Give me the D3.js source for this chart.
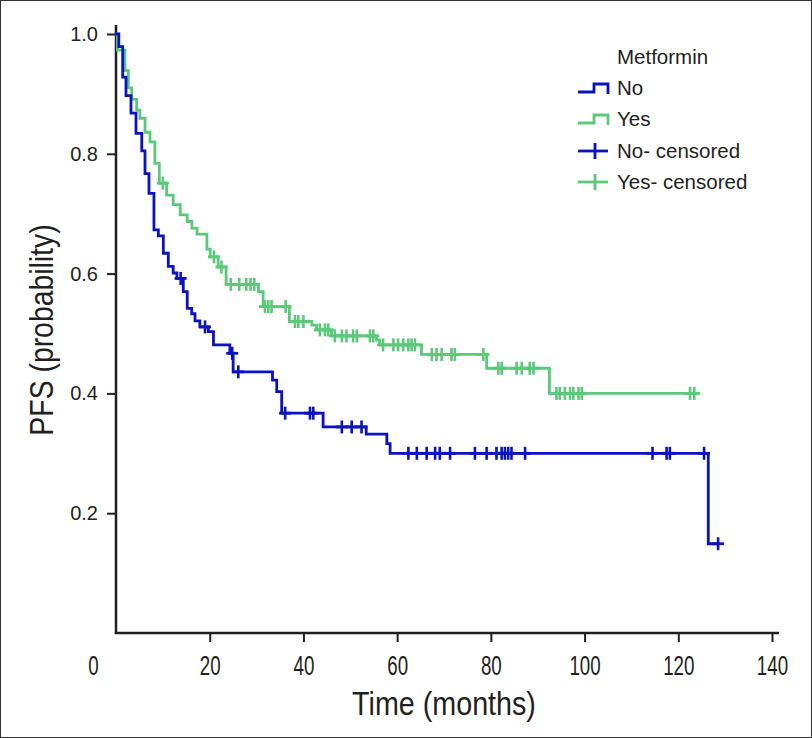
<!DOCTYPE html>
<html><head><meta charset="utf-8">
<script src="https://cdn.jsdelivr.net/npm/d3@7"></script>
<style>
html,body{margin:0;padding:0;background:#fff;}
svg{display:block;}
.reg{font-family:"Liberation Sans",Arial,Helvetica,sans-serif;}
</style></head>
<body>
<script>
// ---- data ----
const xTicks = [0, 20, 40, 60, 80, 100, 120, 140];
const yTicks = [0.2, 0.4, 0.6, 0.8, 1.0];
const legendTitle = "Metformin";
const legendLabels = ["No", "Yes", "No- censored", "Yes- censored"];

// step events: time (months) and survival after drop
const noStepTimes = [0.6, 1.43, 2.13, 3.2, 4.27, 5.5, 6.19, 7.04, 8.1, 9.03, 10.1, 11.16, 12.2, 13.0, 14.36, 15.2, 16.15, 16.86, 17.9, 19.7, 20.8, 24.3, 25.0, 33.4, 34.3, 35.36, 44.2, 53.4, 57.8, 58.5, 126.4];
const noStepSurv  = [0.979, 0.928, 0.897, 0.868, 0.834, 0.805, 0.767, 0.734, 0.673, 0.663, 0.634, 0.612, 0.601, 0.592, 0.570, 0.542, 0.533, 0.521, 0.511, 0.503, 0.481, 0.467, 0.436, 0.422, 0.403, 0.367, 0.344, 0.332, 0.316, 0.300, 0.149];
const noCensor = [13.8, 19.0, 24.8, 26.1, 36.1, 41.4, 42.1, 48.2, 50.3, 52.4, 62.4, 64.2, 66.3, 68.1, 69.1, 71.3, 76.6, 79.1, 81.2, 82.3, 83.0, 83.7, 84.4, 87.3, 114.5, 117.5, 118.2, 125.5, 128.5];

const yesStepTimes = [0.3, 1.9, 2.63, 3.35, 4.41, 5.1, 6.2, 7.25, 8.3, 9.24, 10.8, 12.2, 13.7, 15.2, 16.2, 17.3, 19.4, 20.1, 21.8, 23.5, 30.4, 31.4, 37.0, 41.8, 42.8, 46.0, 55.6, 56.3, 65.2, 79.1, 92.5];
const yesStepSurv  = [0.973, 0.939, 0.910, 0.891, 0.873, 0.859, 0.836, 0.820, 0.784, 0.751, 0.731, 0.715, 0.698, 0.687, 0.676, 0.666, 0.641, 0.628, 0.611, 0.582, 0.570, 0.545, 0.520, 0.514, 0.506, 0.496, 0.489, 0.481, 0.465, 0.442, 0.400];
const yesCensor = [10.0, 20.9, 22.5, 24.5, 26.3, 27.8, 28.7, 29.5, 31.8, 32.5, 33.2, 36.2, 38.2, 38.9, 40.0, 43.5, 44.6, 45.3, 46.7, 48.2, 49.2, 50.6, 51.4, 54.2, 54.9, 57.0, 59.2, 60.2, 61.3, 62.4, 63.1, 63.8, 67.4, 68.4, 69.5, 71.6, 72.3, 78.4, 81.6, 82.3, 85.5, 86.6, 88.3, 89.1, 94.0, 94.7, 95.8, 96.9, 97.6, 98.7, 99.4, 122.5, 123.4];

const blue = "#0b12c0", green = "#5bc97a", ink = "#231f20";

const W = 812, H = 738;
const svg = d3.select("body").append("svg").attr("width", W).attr("height", H);

svg.append("rect").attr("x", 0.5).attr("y", 0.5).attr("width", W - 1).attr("height", H - 1)
  .attr("fill", "#fff").attr("stroke", "#333").attr("stroke-width", 1);

const x = d3.scaleLinear().domain([0, 140]).range([116, 772]);
const y = d3.scaleLinear().domain([0, 1]).range([633, 34]);

// axes
const yAxis = d3.axisLeft(y).tickValues(yTicks).tickFormat(d3.format(".1f")).tickSize(9).tickPadding(9);
const gy = svg.append("g").attr("transform", `translate(${x(0)},0)`).call(yAxis);
gy.select(".domain").remove();
gy.selectAll(".tick line").attr("stroke", ink).attr("stroke-width", 2);
gy.selectAll(".tick text").attr("class", "reg").attr("font-size", 20).attr("fill", ink);

const sxTick = 0.67;
const xAxis = d3.axisBottom(x).tickValues(xTicks).tickFormat(d3.format("d")).tickSize(9).tickPadding(13);
const gx = svg.append("g").attr("transform", `translate(0,${y(0)})`).call(xAxis);
gx.select(".domain").remove();
gx.selectAll(".tick line").attr("stroke", ink).attr("stroke-width", 2);
gx.selectAll(".tick text").attr("class", "reg").attr("font-size", 28).attr("fill", ink)
  .attr("transform", `scale(${sxTick},1)`);
gx.selectAll(".tick").filter(d => d === 0).select("line").remove();
gx.selectAll(".tick").filter(d => d === 0).select("text").attr("dx", -23 / sxTick);

svg.append("line").attr("x1", x(0)).attr("x2", x(0)).attr("y1", y(0) + 1).attr("y2", y(1.015))
  .attr("stroke", ink).attr("stroke-width", 2.5);
svg.append("line").attr("x1", x(0) - 1.2).attr("x2", x(141.5)).attr("y1", y(0)).attr("y2", y(0))
  .attr("stroke", ink).attr("stroke-width", 2.5);

// axis titles (condensed look)
svg.append("text").attr("class", "reg")
  .attr("transform", `translate(${(x(0) + x(140)) / 2},715) scale(0.87,1)`)
  .attr("text-anchor", "middle").attr("font-size", 33).attr("fill", ink).text("Time (months)");
svg.append("text").attr("class", "reg").attr("transform", `translate(53,330) rotate(-90) scale(0.86,1)`)
  .attr("text-anchor", "middle").attr("font-size", 33).attr("fill", ink).text("PFS (probability)");

// curves
function build(times, surv, censor) {
  const pts = [[0, 1]];
  times.forEach((t, i) => pts.push([t, surv[i]]));
  const end = Math.max(times[times.length - 1], censor[censor.length - 1]);
  pts.push([end, surv[surv.length - 1]]);
  const sAt = t => { let s = 1; times.forEach((tt, i) => { if (tt <= t) s = surv[i]; }); return s; };
  return { pts, cens: censor.map(t => [t, sAt(t)]) };
}
const line = d3.line().x(d => x(d[0])).y(d => y(d[1])).curve(d3.curveStepAfter);
const series = [
  { ...build(yesStepTimes, yesStepSurv, yesCensor), color: green },
  { ...build(noStepTimes, noStepSurv, noCensor), color: blue }
];
series.forEach(s => {
  svg.append("path").attr("d", line(s.pts)).attr("fill", "none").attr("stroke", s.color)
    .attr("stroke-width", 2.8).attr("stroke-linejoin", "miter").attr("stroke-linecap", "square");
  const g = svg.append("g");
  s.cens.forEach(c => {
    g.append("line").attr("x1", x(c[0])).attr("x2", x(c[0])).attr("y1", y(c[1]) - 6.5).attr("y2", y(c[1]) + 6.5)
      .attr("stroke", s.color).attr("stroke-width", 2.6);
    g.append("line").attr("x1", x(c[0]) - 6).attr("x2", x(c[0]) + 6).attr("y1", y(c[1])).attr("y2", y(c[1]))
      .attr("stroke", s.color).attr("stroke-width", 2.8);
  });
});

// legend
const lg = svg.append("g").attr("class", "reg");
lg.append("text").attr("x", 617).attr("y", 64).attr("font-size", 20.5).attr("fill", ink).text(legendTitle);
const legColors = [blue, green, blue, green];
const legY = [88, 119, 151, 182];
legendLabels.forEach((lab, i) => {
  const cy = legY[i];
  if (i < 2) {
    lg.append("path").attr("d", `M578,${cy + 4}H594V${cy - 4}H608V${cy + 6}`)
      .attr("fill", "none").attr("stroke", legColors[i]).attr("stroke-width", 2.8);
  } else {
    lg.append("line").attr("x1", 578).attr("x2", 608).attr("y1", cy).attr("y2", cy)
      .attr("stroke", legColors[i]).attr("stroke-width", 2.8);
    lg.append("line").attr("x1", 595).attr("x2", 595).attr("y1", cy - 8).attr("y2", cy + 8)
      .attr("stroke", legColors[i]).attr("stroke-width", 2.8);
  }
  lg.append("text").attr("x", 617).attr("y", cy + 7).attr("font-size", 20.5).attr("fill", ink).text(lab);
});
</script>
</body></html>
